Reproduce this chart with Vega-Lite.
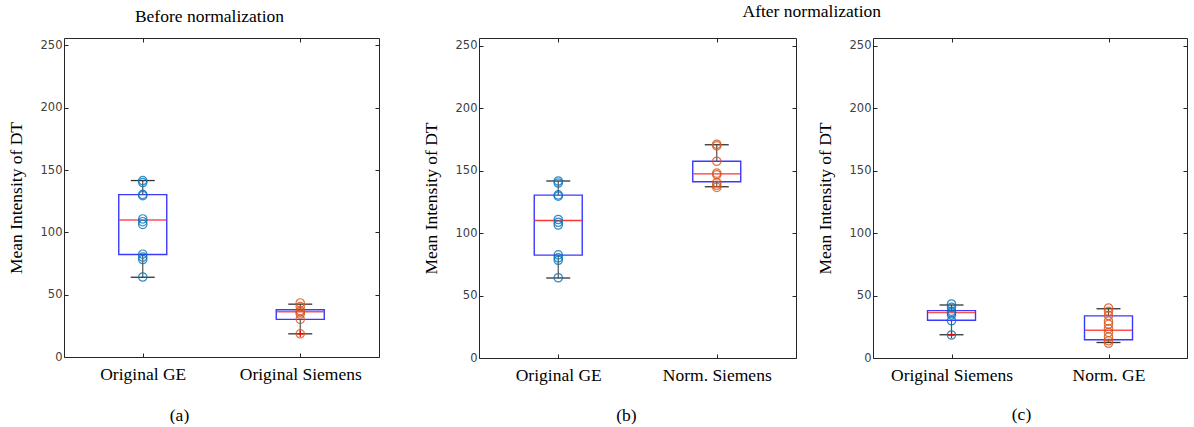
{
  "$schema": "https://vega.github.io/schema/vega-lite/v6.json",
  "padding": {"left": 6, "top": 2, "right": 0, "bottom": 0},
  "background": "white",
  "spacing": 41,
  "config": {
    "view": {"stroke": "#262626", "strokeWidth": 1},
    "axis": {
      "domain": false, "grid": false, "tickSize": -4, "tickColor": "#262626",
      "labelFont": "DejaVu Sans", "labelFontSize": 11.5, "labelColor": "#404040",
      "titleFont": "Liberation Serif", "titleFontSize": 17.5, "titleFontWeight": "normal", "titleColor": "#000000"
    },
    "title": {"font": "Liberation Serif", "fontSize": 17.5, "fontWeight": "normal", "color": "#000000"}
  },
  "datasets": {
    "stats": [
      {"panel": "a", "cat": "Original GE", "lower": 64, "q1": 82.3, "med": 110, "q3": 130.3, "upper": 141.6},
      {"panel": "a", "cat": "Original Siemens", "lower": 18.6, "q1": 30.2, "med": 36.3, "q3": 37.9, "upper": 42.4},
      {"panel": "b", "cat": "Original GE", "lower": 64, "q1": 82.3, "med": 110, "q3": 130.3, "upper": 141.6},
      {"panel": "b", "cat": "Norm. Siemens", "lower": 137, "q1": 141, "med": 147.3, "q3": 157.4, "upper": 170.6},
      {"panel": "c", "cat": "Original Siemens", "lower": 18.6, "q1": 30.2, "med": 36.3, "q3": 37.9, "upper": 42.4},
      {"panel": "c", "cat": "Norm. GE", "lower": 12.4, "q1": 14.6, "med": 22.2, "q3": 33.7, "upper": 39.4}
    ],
    "pts": [
      {"panel": "a", "cat": "Original GE", "grp": "first", "v": 141.6},
      {"panel": "a", "cat": "Original GE", "grp": "first", "v": 140},
      {"panel": "a", "cat": "Original GE", "grp": "first", "v": 130.5},
      {"panel": "a", "cat": "Original GE", "grp": "first", "v": 129.5},
      {"panel": "a", "cat": "Original GE", "grp": "first", "v": 110.8},
      {"panel": "a", "cat": "Original GE", "grp": "first", "v": 108.6},
      {"panel": "a", "cat": "Original GE", "grp": "first", "v": 106.4},
      {"panel": "a", "cat": "Original GE", "grp": "first", "v": 82.5},
      {"panel": "a", "cat": "Original GE", "grp": "first", "v": 80.2},
      {"panel": "a", "cat": "Original GE", "grp": "first", "v": 78.2},
      {"panel": "a", "cat": "Original GE", "grp": "first", "v": 64.2},
      {"panel": "a", "cat": "Original Siemens", "grp": "second", "v": 43.4},
      {"panel": "a", "cat": "Original Siemens", "grp": "second", "v": 40.4},
      {"panel": "a", "cat": "Original Siemens", "grp": "second", "v": 37.2},
      {"panel": "a", "cat": "Original Siemens", "grp": "second", "v": 36},
      {"panel": "a", "cat": "Original Siemens", "grp": "second", "v": 34.5},
      {"panel": "a", "cat": "Original Siemens", "grp": "second", "v": 30.2},
      {"panel": "a", "cat": "Original Siemens", "grp": "second", "v": 18.6},
      {"panel": "b", "cat": "Original GE", "grp": "first", "v": 141.6},
      {"panel": "b", "cat": "Original GE", "grp": "first", "v": 140},
      {"panel": "b", "cat": "Original GE", "grp": "first", "v": 130.5},
      {"panel": "b", "cat": "Original GE", "grp": "first", "v": 129.5},
      {"panel": "b", "cat": "Original GE", "grp": "first", "v": 110.8},
      {"panel": "b", "cat": "Original GE", "grp": "first", "v": 108.6},
      {"panel": "b", "cat": "Original GE", "grp": "first", "v": 106.4},
      {"panel": "b", "cat": "Original GE", "grp": "first", "v": 82.5},
      {"panel": "b", "cat": "Original GE", "grp": "first", "v": 80.2},
      {"panel": "b", "cat": "Original GE", "grp": "first", "v": 78.2},
      {"panel": "b", "cat": "Original GE", "grp": "first", "v": 64.2},
      {"panel": "b", "cat": "Norm. Siemens", "grp": "second", "v": 171},
      {"panel": "b", "cat": "Norm. Siemens", "grp": "second", "v": 169.7},
      {"panel": "b", "cat": "Norm. Siemens", "grp": "second", "v": 157.4},
      {"panel": "b", "cat": "Norm. Siemens", "grp": "second", "v": 147.9},
      {"panel": "b", "cat": "Norm. Siemens", "grp": "second", "v": 146.6},
      {"panel": "b", "cat": "Norm. Siemens", "grp": "second", "v": 140.2},
      {"panel": "b", "cat": "Norm. Siemens", "grp": "second", "v": 138.2},
      {"panel": "b", "cat": "Norm. Siemens", "grp": "second", "v": 136.5},
      {"panel": "c", "cat": "Original Siemens", "grp": "first", "v": 43.2},
      {"panel": "c", "cat": "Original Siemens", "grp": "first", "v": 40.6},
      {"panel": "c", "cat": "Original Siemens", "grp": "first", "v": 37.4},
      {"panel": "c", "cat": "Original Siemens", "grp": "first", "v": 36},
      {"panel": "c", "cat": "Original Siemens", "grp": "first", "v": 34.5},
      {"panel": "c", "cat": "Original Siemens", "grp": "first", "v": 29.8},
      {"panel": "c", "cat": "Original Siemens", "grp": "first", "v": 18.4},
      {"panel": "c", "cat": "Norm. GE", "grp": "second", "v": 40},
      {"panel": "c", "cat": "Norm. GE", "grp": "second", "v": 37.4},
      {"panel": "c", "cat": "Norm. GE", "grp": "second", "v": 34},
      {"panel": "c", "cat": "Norm. GE", "grp": "second", "v": 29.5},
      {"panel": "c", "cat": "Norm. GE", "grp": "second", "v": 27},
      {"panel": "c", "cat": "Norm. GE", "grp": "second", "v": 23.5},
      {"panel": "c", "cat": "Norm. GE", "grp": "second", "v": 20.5},
      {"panel": "c", "cat": "Norm. GE", "grp": "second", "v": 16.8},
      {"panel": "c", "cat": "Norm. GE", "grp": "second", "v": 13.8},
      {"panel": "c", "cat": "Norm. GE", "grp": "second", "v": 11.8}
    ],
    "outl": [
      {"panel": "a", "cat": "Original Siemens", "v": 18.6},
      {"panel": "c", "cat": "Original Siemens", "v": 18.4}
    ]
  },
  "hconcat": [
    {
      "title": {"text": "Before normalization", "frame": "group", "anchor": "middle", "dx": -12, "offset": 12},
      "width": 315, "height": 319,
      "resolve": {"axis": {"x": "independent", "y": "independent"}},
      "layer": [
        {
          "data": {"name": "stats"}, "transform": [{"filter": "datum.panel === 'a'"}],
          "mark": {"type": "bar", "size": 48, "fill": "white", "fillOpacity": 0, "stroke": "#3a3aff", "strokeWidth": 1.4},
          "encoding": {
            "x": {"field": "cat", "type": "nominal", "scale": {"type": "point", "padding": 0.5, "domain": ["Original GE", "Original Siemens"]},
                  "axis": {"orient": "bottom", "labelAngle": 0, "labelFont": "Liberation Serif", "labelFontSize": 17.5, "labelColor": "#000000", "labelPadding": 12,
                           "title": "(a)", "titleX": 115, "titleY": 58, "titleAlign": "center", "titleBaseline": "middle"}},
            "y": {"field": "q1", "type": "quantitative", "scale": {"domain": [0, 256], "nice": false},
                  "axis": {"orient": "left", "values": [0, 50, 100, 150, 200, 250], "title": "Mean Intensity of DT", "titlePadding": 15, "labelPadding": 6}},
            "y2": {"field": "q3"}
          }
        },
        {
          "data": {"name": "stats"}, "transform": [{"filter": "datum.panel === 'a'"}],
          "mark": {"type": "rule", "color": "#555555", "strokeWidth": 1.2},
          "encoding": {"x": {"field": "cat", "type": "nominal", "axis": null}, "y": {"field": "q3", "type": "quantitative", "axis": null}, "y2": {"field": "upper"}}
        },
        {
          "data": {"name": "stats"}, "transform": [{"filter": "datum.panel === 'a'"}],
          "mark": {"type": "rule", "color": "#555555", "strokeWidth": 1.2},
          "encoding": {"x": {"field": "cat", "type": "nominal", "axis": null}, "y": {"field": "lower", "type": "quantitative", "axis": null}, "y2": {"field": "q1"}}
        },
        {
          "data": {"name": "stats"}, "transform": [{"filter": "datum.panel === 'a'"}],
          "mark": {"type": "tick", "size": 24, "thickness": 1.3, "color": "#333333", "opacity": 1},
          "encoding": {"x": {"field": "cat", "type": "nominal", "axis": null}, "y": {"field": "upper", "type": "quantitative", "axis": null}}
        },
        {
          "data": {"name": "stats"}, "transform": [{"filter": "datum.panel === 'a'"}],
          "mark": {"type": "tick", "size": 24, "thickness": 1.3, "color": "#333333", "opacity": 1},
          "encoding": {"x": {"field": "cat", "type": "nominal", "axis": null}, "y": {"field": "lower", "type": "quantitative", "axis": null}}
        },
        {
          "data": {"name": "stats"}, "transform": [{"filter": "datum.panel === 'a'"}],
          "mark": {"type": "tick", "size": 47, "thickness": 1.4, "color": "#ff3030", "opacity": 0.85},
          "encoding": {
            "x": {"field": "cat", "type": "nominal", "axis": {"orient": "top", "labels": false, "title": null}},
            "y": {"field": "med", "type": "quantitative", "axis": {"orient": "right", "labels": false, "title": null, "values": [0, 50, 100, 150, 200, 250]}}
          }
        },
        {
          "data": {"name": "pts"}, "transform": [{"filter": "datum.panel === 'a'"}],
          "mark": {"type": "point", "shape": "circle", "filled": false, "size": 70, "strokeWidth": 1.2, "opacity": 0.8},
          "encoding": {
            "x": {"field": "cat", "type": "nominal", "axis": null},
            "y": {"field": "v", "type": "quantitative", "axis": null},
            "color": {"field": "grp", "type": "nominal", "scale": {"domain": ["first", "second"], "range": ["#0072BD", "#D95319"]}, "legend": null}
          }
        },
        {
          "data": {"name": "outl"}, "transform": [{"filter": "datum.panel === 'a'"}],
          "mark": {"type": "point", "shape": "M-1,0H1M0,-1V1", "filled": false, "size": 40, "strokeWidth": 1.3, "color": "#ff0000", "opacity": 1},
          "encoding": {"x": {"field": "cat", "type": "nominal", "axis": null}, "y": {"field": "v", "type": "quantitative", "axis": null}}
        }
      ]
    },
    {
      "title": {"text": "After normalization", "anchor": "middle", "offset": 17, "dx": 7},
      "spacing": 18,
      "hconcat": [
        {
          "width": 317, "height": 320,
          "resolve": {"axis": {"x": "independent", "y": "independent"}},
          "layer": [
            {
              "data": {"name": "stats"}, "transform": [{"filter": "datum.panel === 'b'"}],
              "mark": {"type": "bar", "size": 48, "fill": "white", "fillOpacity": 0, "stroke": "#3a3aff", "strokeWidth": 1.4},
              "encoding": {
                "x": {"field": "cat", "type": "nominal", "scale": {"type": "point", "padding": 0.5, "domain": ["Original GE", "Norm. Siemens"]},
                      "axis": {"orient": "bottom", "labelAngle": 0, "labelFont": "Liberation Serif", "labelFontSize": 17.5, "labelColor": "#000000", "labelPadding": 12,
                               "title": "(b)", "titleX": 147, "titleY": 57, "titleAlign": "center", "titleBaseline": "middle"}},
                "y": {"field": "q1", "type": "quantitative", "scale": {"domain": [0, 256], "nice": false},
                      "axis": {"orient": "left", "values": [0, 50, 100, 150, 200, 250], "title": "Mean Intensity of DT", "titlePadding": 15, "labelPadding": 6}},
                "y2": {"field": "q3"}
              }
            },
            {
              "data": {"name": "stats"}, "transform": [{"filter": "datum.panel === 'b'"}],
              "mark": {"type": "rule", "color": "#555555", "strokeWidth": 1.2},
              "encoding": {"x": {"field": "cat", "type": "nominal", "axis": null}, "y": {"field": "q3", "type": "quantitative", "axis": null}, "y2": {"field": "upper"}}
            },
            {
              "data": {"name": "stats"}, "transform": [{"filter": "datum.panel === 'b'"}],
              "mark": {"type": "rule", "color": "#555555", "strokeWidth": 1.2},
              "encoding": {"x": {"field": "cat", "type": "nominal", "axis": null}, "y": {"field": "lower", "type": "quantitative", "axis": null}, "y2": {"field": "q1"}}
            },
            {
              "data": {"name": "stats"}, "transform": [{"filter": "datum.panel === 'b'"}],
              "mark": {"type": "tick", "size": 24, "thickness": 1.3, "color": "#333333", "opacity": 1},
              "encoding": {"x": {"field": "cat", "type": "nominal", "axis": null}, "y": {"field": "upper", "type": "quantitative", "axis": null}}
            },
            {
              "data": {"name": "stats"}, "transform": [{"filter": "datum.panel === 'b'"}],
              "mark": {"type": "tick", "size": 24, "thickness": 1.3, "color": "#333333", "opacity": 1},
              "encoding": {"x": {"field": "cat", "type": "nominal", "axis": null}, "y": {"field": "lower", "type": "quantitative", "axis": null}}
            },
            {
              "data": {"name": "stats"}, "transform": [{"filter": "datum.panel === 'b'"}],
              "mark": {"type": "tick", "size": 47, "thickness": 1.4, "color": "#ff2020", "opacity": 0.9},
              "encoding": {
                "x": {"field": "cat", "type": "nominal", "axis": {"orient": "top", "labels": false, "title": null}},
                "y": {"field": "med", "type": "quantitative", "axis": {"orient": "right", "labels": false, "title": null, "values": [0, 50, 100, 150, 200, 250]}}
              }
            },
            {
              "data": {"name": "pts"}, "transform": [{"filter": "datum.panel === 'b'"}],
              "mark": {"type": "point", "shape": "circle", "filled": false, "size": 70, "strokeWidth": 1.2, "opacity": 0.8},
              "encoding": {
                "x": {"field": "cat", "type": "nominal", "axis": null},
                "y": {"field": "v", "type": "quantitative", "axis": null},
                "color": {"field": "grp", "type": "nominal", "scale": {"domain": ["first", "second"], "range": ["#0072BD", "#D95319"]}, "legend": null}
              }
            }
          ]
        },
        {
          "width": 314, "height": 320,
          "resolve": {"axis": {"x": "independent", "y": "independent"}},
          "layer": [
            {
              "data": {"name": "stats"}, "transform": [{"filter": "datum.panel === 'c'"}],
              "mark": {"type": "bar", "size": 48, "fill": "white", "fillOpacity": 0, "stroke": "#3a3aff", "strokeWidth": 1.4},
              "encoding": {
                "x": {"field": "cat", "type": "nominal", "scale": {"type": "point", "padding": 0.5, "domain": ["Original Siemens", "Norm. GE"]},
                      "axis": {"orient": "bottom", "labelAngle": 0, "labelFont": "Liberation Serif", "labelFontSize": 17.5, "labelColor": "#000000", "labelPadding": 12,
                               "title": "(c)", "titleX": 148, "titleY": 56, "titleAlign": "center", "titleBaseline": "middle"}},
                "y": {"field": "q1", "type": "quantitative", "scale": {"domain": [0, 256], "nice": false},
                      "axis": {"orient": "left", "values": [0, 50, 100, 150, 200, 250], "title": "Mean Intensity of DT", "titlePadding": 15, "labelPadding": 6}},
                "y2": {"field": "q3"}
              }
            },
            {
              "data": {"name": "stats"}, "transform": [{"filter": "datum.panel === 'c'"}],
              "mark": {"type": "rule", "color": "#555555", "strokeWidth": 1.2},
              "encoding": {"x": {"field": "cat", "type": "nominal", "axis": null}, "y": {"field": "q3", "type": "quantitative", "axis": null}, "y2": {"field": "upper"}}
            },
            {
              "data": {"name": "stats"}, "transform": [{"filter": "datum.panel === 'c'"}],
              "mark": {"type": "rule", "color": "#555555", "strokeWidth": 1.2},
              "encoding": {"x": {"field": "cat", "type": "nominal", "axis": null}, "y": {"field": "lower", "type": "quantitative", "axis": null}, "y2": {"field": "q1"}}
            },
            {
              "data": {"name": "stats"}, "transform": [{"filter": "datum.panel === 'c'"}],
              "mark": {"type": "tick", "size": 24, "thickness": 1.3, "color": "#333333", "opacity": 1},
              "encoding": {"x": {"field": "cat", "type": "nominal", "axis": null}, "y": {"field": "upper", "type": "quantitative", "axis": null}}
            },
            {
              "data": {"name": "stats"}, "transform": [{"filter": "datum.panel === 'c'"}],
              "mark": {"type": "tick", "size": 24, "thickness": 1.3, "color": "#333333", "opacity": 1},
              "encoding": {"x": {"field": "cat", "type": "nominal", "axis": null}, "y": {"field": "lower", "type": "quantitative", "axis": null}}
            },
            {
              "data": {"name": "stats"}, "transform": [{"filter": "datum.panel === 'c'"}],
              "mark": {"type": "tick", "size": 47, "thickness": 1.4, "color": "#ff3030", "opacity": 0.85},
              "encoding": {
                "x": {"field": "cat", "type": "nominal", "axis": {"orient": "top", "labels": false, "title": null}},
                "y": {"field": "med", "type": "quantitative", "axis": {"orient": "right", "labels": false, "title": null, "values": [0, 50, 100, 150, 200, 250]}}
              }
            },
            {
              "data": {"name": "pts"}, "transform": [{"filter": "datum.panel === 'c'"}],
              "mark": {"type": "point", "shape": "circle", "filled": false, "size": 70, "strokeWidth": 1.2, "opacity": 0.8},
              "encoding": {
                "x": {"field": "cat", "type": "nominal", "axis": null},
                "y": {"field": "v", "type": "quantitative", "axis": null},
                "color": {"field": "grp", "type": "nominal", "scale": {"domain": ["first", "second"], "range": ["#0072BD", "#D95319"]}, "legend": null}
              }
            },
            {
              "data": {"name": "outl"}, "transform": [{"filter": "datum.panel === 'c'"}],
              "mark": {"type": "point", "shape": "M-1,0H1M0,-1V1", "filled": false, "size": 40, "strokeWidth": 1.3, "color": "#ff0000", "opacity": 1},
              "encoding": {"x": {"field": "cat", "type": "nominal", "axis": null}, "y": {"field": "v", "type": "quantitative", "axis": null}}
            }
          ]
        }
      ]
    }
  ]
}
